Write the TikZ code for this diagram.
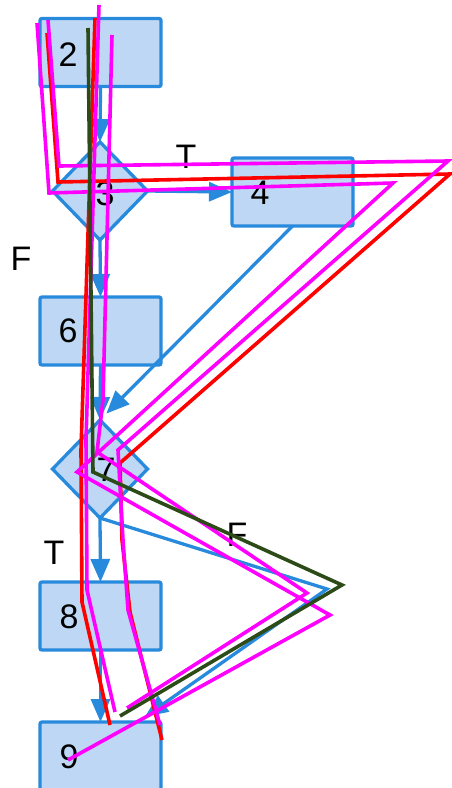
\documentclass[tikz,border=0pt]{standalone}
\usepackage{fontspec}
\setmainfont{Liberation Sans}
\usetikzlibrary{arrows.meta,shapes.geometric}
\definecolor{flowblue}{RGB}{40,138,220}
\definecolor{flowfill}{RGB}{189,215,244}
\definecolor{tracegreen}{RGB}{45,75,25}
\definecolor{tracemag}{RGB}{255,0,255}
\definecolor{tracered}{RGB}{255,0,0}
\begin{document}
\begin{tikzpicture}[x=1pt,y=-1pt,
  box/.style={draw=flowblue,fill=flowfill,line width=3.3pt,rounded corners=2pt,minimum width=121pt,minimum height=68pt,inner sep=0pt,outer sep=0pt},
  dia/.style={diamond,draw=flowblue,fill=flowfill,line width=3.3pt,minimum width=95pt,minimum height=98pt,inner sep=0pt,outer sep=0pt},
  lab/.style={font=\fontsize{34}{40}\selectfont,inner sep=0pt},
  flow/.style={draw=flowblue,line width=3.3pt,-{Triangle[length=23pt,width=19pt]}},
  trace/.style={line width=3.6pt,line join=miter}]
\useasboundingbox (0,0) rectangle (451,788);
% shapes
\node[box] (b2) at (100.5,52.5) {};
\node[dia] (d3) at (100,191) {};
\node[box] (b4) at (292.5,192) {};
\node[box] (b6) at (100.5,331) {};
\node[dia] (d7) at (100,469) {};
\node[box] (b8) at (100.5,616) {};
\node[box] (b9) at (100.5,756) {};
% labels
\node[lab] (t2) at (68,55) {2};
\node[lab] (t3) at (105,194) {3};
\node[lab] (t4) at (260,193) {4};
\node[lab] (t6) at (68,331) {6};
\node[lab] (t7) at (106,470) {7};
\node[lab] (t8) at (69,617) {8};
\node[lab] (t9) at (69,757) {9};
\node[lab] (lT1) at (186,157) {T};
\node[lab] (lF1) at (21,259) {F};
\node[lab] (lT2) at (54,553) {T};
\node[lab] (lF2) at (237,535) {F};
% flow arrows
\coordinate (c79) at (327,589);
\draw[flow] (b2.south) -- (d3.north);
\draw[flow] (d3.east) -- (b4.west);
\draw[flow] (d3.south) -- (b6.north);
\draw[flow,shorten >=9pt] (b4.south) -- (d7.north);
\draw[flow] (b6.south) -- (d7.north);
\draw[flow] (d7.south) -- (b8.north);
\draw[flow,shorten >=9pt] (d7.south) -- (c79) -- ([xshift=37pt]b9.north);
\draw[flow] (b8.south) -- (b9.north);
% traces
\draw[trace,tracered] (95,18) -- (81,450) -- (82,602) -- (110,725);
\draw[trace,tracered] (47,33) -- (58,182) -- (450,174) -- (120,463) -- (122,540) -- (130,612) -- (162,740);
\draw[trace,tracemag] (48,20) -- (59,166) -- (448,161) -- (118,450) -- (123,540) -- (128,610) -- (160,725);
\draw[trace,tracemag] (37,23) -- (49,193) -- (393,183) -- (77,472) -- (330,615) -- (68,760);
\draw[trace,tracemag] (99,5) -- (86,440) -- (87,590) -- (115,712);
\draw[trace,tracemag] (112,35) -- (103,400) -- (97,452) -- (307,593) -- (127,708);
\draw[trace,tracegreen] (88,28) -- (93,472) -- (342,585) -- (120,716);
\end{tikzpicture}
\end{document}
